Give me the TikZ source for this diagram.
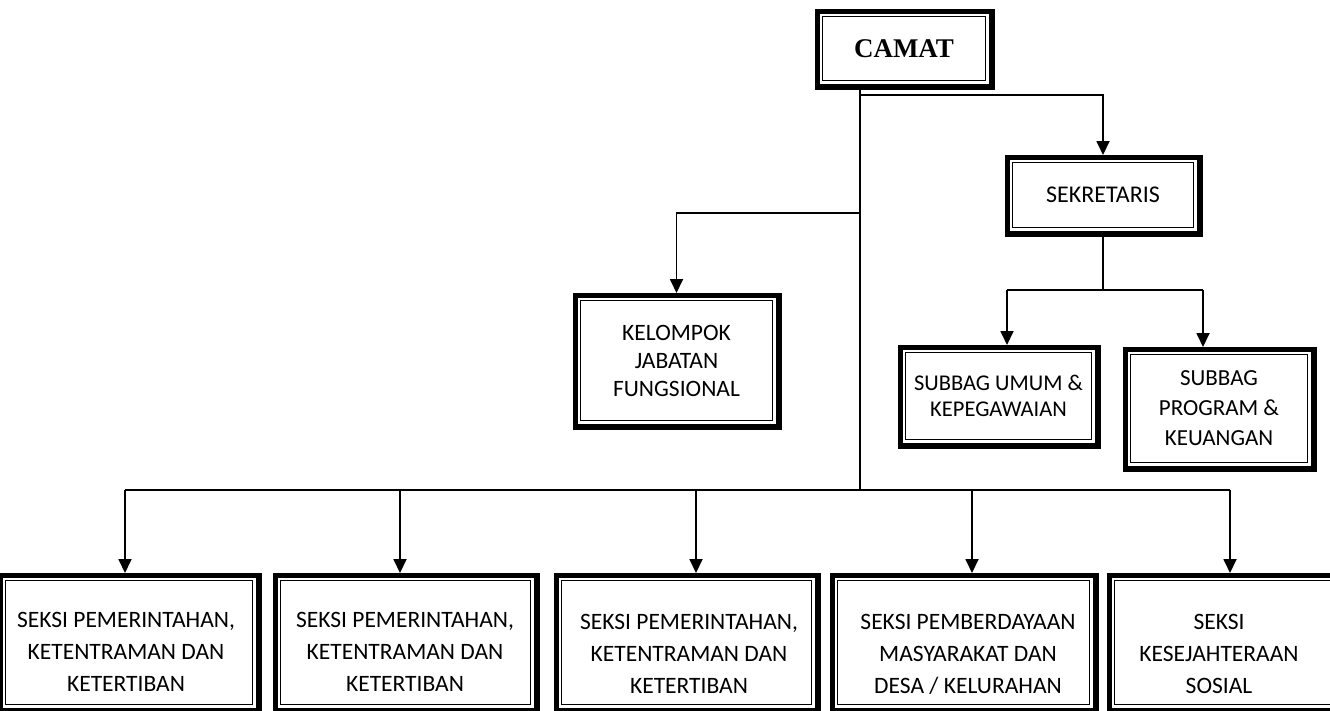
\documentclass[tikz,border=0pt]{standalone}
\usepackage{fontspec}
\setmainfont{Carlito}
\newfontfamily\camatfont{Liberation Serif}
\usetikzlibrary{arrows.meta,calc}
\pgfdeclarelayer{bg}
\pgfsetlayers{bg,main}
\tikzset{
  conn/.style={line width=1.8pt},
  arr/.style={conn,-{Triangle[width=13pt,length=14pt]}},
  orgbox/.style={draw,line width=1.5pt,outer sep=7.5pt,inner sep=0pt,align=center},
  boxtxt/.style={align=center,inner sep=0pt},
}
% name, x1, y1, x2, y2 (outer edges, pixels), extra options
\newcommand{\orgbx}[6]{\node[orgbox,minimum width={#4-#2-17},minimum height={#5-#3-17},#6] (#1) at ({(#2+#4)/2-1},{(#3+#5)/2-1})}
\begin{document}
\begin{tikzpicture}[x=1pt,y=-1pt]
\useasboundingbox (0,0) rectangle (1330,710);
\clip (0,0) rectangle (1330,710);

% top boxes
\orgbx{camat}{815}{9}{995}{90}{font=\camatfont\bfseries\fontsize{27}{30}\selectfont}{CAMAT};
\orgbx{sek}{1005}{155}{1203}{237}{font=\fontsize{24}{28}\selectfont}{SEKRETARIS};
\orgbx{kel}{573}{293}{782}{430}{font=\fontsize{23.5}{28}\selectfont}{KELOMPOK\\JABATAN\\FUNGSIONAL};
\orgbx{umum}{898}{345}{1101}{449}{font=\fontsize{22.5}{26}\selectfont}{SUBBAG UMUM \&\\KEPEGAWAIAN};
\orgbx{prog}{1123}{347}{1317}{472}{font=\fontsize{23}{30}\selectfont}{SUBBAG\\PROGRAM \&\\KEUANGAN};

% bottom boxes
\orgbx{b1}{-2}{573}{262}{714}{}{};
\orgbx{b2}{273}{573}{540}{714}{}{};
\orgbx{b3}{554}{573}{821}{714}{}{};
\orgbx{b4}{830}{573}{1099}{714}{}{};
\orgbx{b5}{1107}{573}{1340}{714}{}{};

\begin{scope}[boxtxt,font=\fontsize{23.5}{32}\selectfont]
\node (t1) at (126,652) {SEKSI PEMERINTAHAN,\\KETENTRAMAN DAN\\KETERTIBAN};
\node (t2) at (405,652) {SEKSI PEMERINTAHAN,\\KETENTRAMAN DAN\\KETERTIBAN};
\node (t3) at (689,654) {SEKSI PEMERINTAHAN,\\KETENTRAMAN DAN\\KETERTIBAN};
\node (t4) at (968,654) {SEKSI PEMBERDAYAAN\\MASYARAKAT DAN\\DESA / KELURAHAN};
\node (t5) at (1219,654) {SEKSI\\KESEJAHTERAAN\\SOSIAL};
\end{scope}

% double borders (thick outer, thin inner)
\begin{pgfonlayer}{bg}
\clip (0,0) rectangle (1330,710);
\foreach \n in {camat,sek,kel,umum,prog,b1,b2,b3,b4,b5}{
  \fill[black] (\n.north west) rectangle ([xshift=2pt,yshift=-2pt]\n.south east);
  \fill[white] ([xshift=4.5pt,yshift=-4.5pt]\n.north west) rectangle ([xshift=-4.5pt,yshift=4.5pt]\n.south east);
}
\end{pgfonlayer}

% junction points
\coordinate (jbus) at (860,490);
\coordinate (jsek) at (860,95);
\coordinate (jkel) at (860,213);
\coordinate (jsub) at (1103,290);
\coordinate (ju) at (1007,290);
\coordinate (jp) at (1203,290);
\coordinate (a1) at (125,490);
\coordinate (a2) at (400,490);
\coordinate (a3) at (696,490);
\coordinate (a4) at (972,490);
\coordinate (a5) at (1230,490);

% connectors
\draw[conn] (camat.south -| jbus) -- (jbus);
\draw[arr] (jsek) -| (sek.north);
\draw[arr] (jkel) -| (kel.north);
\draw[conn] (sek.south) -- (jsub);
\draw[conn] (ju) -- (jp);
\draw[arr] (ju) -- (ju |- umum.north);
\draw[arr] (jp) -- (jp |- prog.north);
\draw[conn] (a1) -- (a5);
\foreach \i in {1,...,5}{
  \draw[arr] (a\i) -- (a\i |- b\i.north);
}
\end{tikzpicture}
\end{document}
